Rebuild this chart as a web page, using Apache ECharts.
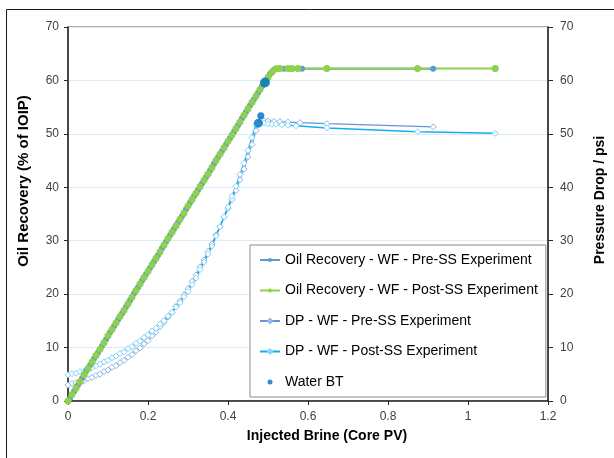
<!DOCTYPE html>
<html>
<head>
<meta charset="utf-8">
<script src="https://cdn.jsdelivr.net/npm/echarts@6/dist/echarts.min.js"></script>
<style>
html,body{margin:0;padding:0;background:#fff;}
#chart{width:614px;height:458px;}
</style>
</head>
<body>
<div id="chart"></div>
<script>
// ---- Data ----
var xTicks = ['0', '0.2', '0.4', '0.6', '0.8', '1', '1.2'];
var yTicks = ['0', '10', '20', '30', '40', '50', '60', '70'];

var seriesNames = [
  'Oil Recovery - WF - Pre-SS Experiment',
  'Oil Recovery - WF - Post-SS Experiment',
  'DP - WF - Pre-SS Experiment',
  'DP - WF - Post-SS Experiment',
  'Water BT'
];

// Oil recovery, pre-SS  [PV, % IOIP]
var oilPre = [
  [0.005,0.5],[0.015,1.8],[0.025,3.0],[0.035,4.2],[0.045,5.5],[0.055,6.7],[0.065,7.9],[0.075,9.1],
  [0.085,10.3],[0.095,11.5],[0.105,12.8],[0.115,14.0],[0.125,15.2],[0.135,16.4],[0.145,17.6],
  [0.155,18.8],[0.165,20.1],[0.175,21.3],[0.185,22.5],[0.195,23.7],[0.205,24.9],[0.215,26.1],
  [0.225,27.3],[0.235,28.6],[0.245,29.8],[0.255,31.0],[0.265,32.2],[0.275,33.4],[0.285,34.6],
  [0.295,35.9],[0.305,37.1],[0.315,38.3],[0.325,39.5],[0.335,40.7],[0.345,41.9],[0.355,43.1],
  [0.365,44.4],[0.375,45.6],[0.385,46.8],[0.395,48.0],[0.405,49.2],[0.415,50.4],[0.425,51.6],
  [0.435,52.9],[0.445,54.1],[0.455,55.3],[0.465,56.5],[0.475,57.7],[0.485,58.9],[0.495,59.9],
  [0.505,61.2],[0.515,62.0],[0.525,62.2],[0.54,62.2],[0.56,62.2],[0.575,62.2],[0.585,62.2],[0.913,62.2]
];

// Oil recovery, post-SS
var oilPost = [
  [0.000,0.0],[0.010,1.2],[0.020,2.4],[0.030,3.6],[0.040,4.9],[0.050,6.1],[0.060,7.3],[0.070,8.5],
  [0.080,9.7],[0.090,10.9],[0.100,12.2],[0.110,13.4],[0.120,14.6],[0.130,15.8],[0.140,17.0],
  [0.150,18.2],[0.160,19.4],[0.170,20.7],[0.180,21.9],[0.190,23.1],[0.200,24.3],[0.210,25.5],
  [0.220,26.7],[0.230,27.9],[0.240,29.2],[0.250,30.4],[0.260,31.6],[0.270,32.8],[0.280,34.0],
  [0.290,35.2],[0.300,36.5],[0.310,37.7],[0.320,38.9],[0.330,40.1],[0.340,41.3],[0.350,42.5],
  [0.360,43.7],[0.370,45.0],[0.380,46.2],[0.390,47.4],[0.400,48.6],[0.410,49.8],[0.420,51.0],
  [0.430,52.2],[0.440,53.5],[0.450,54.7],[0.460,55.9],[0.470,57.1],[0.480,58.3],[0.490,59.5],
  [0.500,60.6],[0.510,61.6],[0.520,62.2],[0.530,62.25],[0.550,62.25],[0.560,62.25],
  [0.575,62.25],[0.647,62.25],[0.874,62.25],[1.068,62.25]
];

// Pressure drop, pre-SS [PV, psi]
var dpPre = [
  [0.000,3.0],[0.010,3.3],[0.020,3.4],[0.030,3.7],[0.040,3.8],[0.050,4.2],[0.060,4.4],[0.070,4.8],
  [0.080,5.0],[0.090,5.5],[0.100,5.8],[0.110,6.3],[0.120,6.6],[0.130,7.2],[0.140,7.6],[0.150,8.2],
  [0.160,8.7],[0.170,9.4],[0.180,9.9],[0.190,10.7],[0.200,11.3],[0.210,12.2],[0.220,12.9],
  [0.230,13.9],[0.240,14.7],[0.250,15.7],[0.260,16.6],[0.270,17.7],[0.280,18.7],[0.290,19.9],
  [0.300,21.0],[0.310,22.4],[0.320,23.6],[0.330,25.1],[0.340,26.4],[0.350,28.0],[0.360,29.4],
  [0.370,31.1],[0.380,32.6],[0.390,34.4],[0.400,36.0],[0.410,37.7],[0.420,39.4],[0.430,41.4],
  [0.440,43.4],[0.450,45.7],[0.460,48.0],[0.470,50.6],[0.482,53.4],[0.490,52.5],[0.500,52.4],
  [0.515,52.3],[0.530,52.3],[0.550,52.2],[0.580,52.1],[0.647,51.9],[0.913,51.3]
];

// Pressure drop, post-SS
var dpPost = [
  [0.000,4.9],[0.010,5.1],[0.020,5.2],[0.030,5.5],[0.040,5.6],[0.050,6.0],[0.060,6.2],[0.070,6.6],
  [0.080,6.9],[0.090,7.3],[0.100,7.6],[0.110,8.1],[0.120,8.4],[0.130,8.9],[0.140,9.2],[0.150,9.8],
  [0.160,10.2],[0.170,10.8],[0.180,11.2],[0.190,11.9],[0.200,12.4],[0.210,13.1],[0.220,13.6],
  [0.230,14.4],[0.240,15.0],[0.250,15.9],[0.260,16.6],[0.270,17.6],[0.280,18.4],[0.290,19.5],
  [0.300,20.5],[0.310,21.8],[0.320,23.0],[0.330,24.6],[0.340,26.0],[0.350,27.5],[0.360,29.0],
  [0.370,30.9],[0.380,32.6],[0.390,34.5],[0.400,36.3],[0.410,38.3],[0.420,40.2],[0.430,42.4],
  [0.440,44.5],[0.450,46.9],[0.460,49.3],[0.470,51.8],[0.476,52.0],[0.490,52.0],[0.500,51.9],
  [0.510,51.8],[0.520,51.8],[0.535,51.7],[0.550,51.6],[0.570,51.5],[0.647,51.1],[0.874,50.4],[1.068,50.1]
];

// Water breakthrough markers
var waterBT = [[0.4925,59.6],[0.482,53.4],[0.476,52.0]];
var waterBTSize = [10, 7, 9];

// ---- Chart ----
var FONT = 'Liberation Sans, Arial, sans-serif';
var chart = echarts.init(document.getElementById('chart'), null, {renderer:'canvas'});

var option = {
  animation: false,
  backgroundColor: '#ffffff',
  textStyle: {fontFamily: FONT},
  grid: {left: 68, right: 66, top: 27, bottom: 57, show: true, borderColor: '#595959', borderWidth: 1, backgroundColor: 'transparent'},
  xAxis: {
    type: 'value', min: 0, max: 1.2, interval: 0.2,
    axisLine: {show: true, onZero: false, lineStyle: {color: '#262626', width: 1.5}},
    axisTick: {show: true, inside: false, length: 4, lineStyle: {color: '#262626'}},
    axisLabel: {color: '#404040', fontSize: 12, fontFamily: FONT, margin: 10,
      formatter: function (v) { var s = xTicks[Math.round(v / 0.2)]; return s === undefined ? '' : s; }},
    splitLine: {show: false}
  },
  yAxis: [
    {
      type: 'value', min: 0, max: 70, interval: 10, position: 'left',
      axisLine: {show: true, lineStyle: {color: '#262626', width: 1.5}},
      axisTick: {show: true, length: 4, lineStyle: {color: '#262626'}},
      axisLabel: {color: '#404040', fontSize: 12, fontFamily: FONT, margin: 9,
        formatter: function (v) { return yTicks[Math.round(v / 10)]; }},
      splitLine: {show: true, lineStyle: {color: '#dde9f5', width: 1}}
    },
    {
      type: 'value', min: 0, max: 70, interval: 10, position: 'right',
      axisLine: {show: true, lineStyle: {color: '#262626', width: 1.5}},
      axisTick: {show: true, length: 5, lineStyle: {color: '#262626'}},
      axisLabel: {color: '#404040', fontSize: 12, fontFamily: FONT, margin: 12,
        formatter: function (v) { return yTicks[Math.round(v / 10)]; }},
      splitLine: {show: false}
    }
  ],
  legend: {
    orient: 'vertical', left: 250, top: 245,
    padding: [8, 8, 8, 9], itemGap: 16.5, itemWidth: 20, itemHeight: 5,
    backgroundColor: '#ffffff', borderColor: '#8c8c8c', borderWidth: 1, borderRadius: 0,
    textStyle: {color: '#000000', fontSize: 14, fontFamily: FONT},
    data: seriesNames.map(function (n) { return {name: n}; })
  },
  graphic: [
    {type: 'rect', silent: true, z: -1, shape: {x: 6.5, y: 9.5, width: 700, height: 600},
      style: {fill: 'none', stroke: '#1a1a1a', lineWidth: 1}},
    {type: 'text', x: 24, y: 181, rotation: Math.PI / 2,
      style: {text: 'Oil Recovery (% of IOIP)', font: 'bold 15px ' + FONT, fill: '#000', textAlign: 'center', textVerticalAlign: 'middle'}},
    {type: 'text', x: 600, y: 200, rotation: Math.PI / 2,
      style: {text: 'Pressure Drop / psi', font: 'bold 14px ' + FONT, fill: '#000', textAlign: 'center', textVerticalAlign: 'middle'}},
    {type: 'text', x: 327, y: 436,
      style: {text: 'Injected Brine (Core PV)', font: 'bold 14px ' + FONT, fill: '#000', textAlign: 'center', textVerticalAlign: 'middle'}}
  ],
  series: [
    {
      name: seriesNames[2], type: 'line', yAxisIndex: 1, data: dpPre,
      symbol: 'diamond', symbolSize: 6, showSymbol: true,
      lineStyle: {color: '#6495d6', width: 1.2},
      itemStyle: {color: '#ffffff', borderColor: '#8fb4e3', borderWidth: 1}
    },
    {
      name: seriesNames[3], type: 'line', yAxisIndex: 1, data: dpPost,
      symbol: 'diamond', symbolSize: 6, showSymbol: true,
      lineStyle: {color: '#12aef0', width: 1.5},
      itemStyle: {color: '#ffffff', borderColor: '#7fd3f6', borderWidth: 1}
    },
    {
      name: seriesNames[0], type: 'line', yAxisIndex: 0, data: oilPre,
      symbol: 'circle', symbolSize: 6, showSymbol: true,
      lineStyle: {color: '#5b9bd5', width: 2},
      itemStyle: {color: '#5b9bd5'}
    },
    {
      name: seriesNames[1], type: 'line', yAxisIndex: 0, data: oilPost,
      symbol: 'circle', symbolSize: 7, showSymbol: true,
      lineStyle: {color: '#92d050', width: 2},
      itemStyle: {color: '#8fd04c'}
    },
    {
      name: seriesNames[4], type: 'scatter', yAxisIndex: 0,
      data: waterBT.map(function (p, i) { return {value: p, symbolSize: waterBTSize[i]}; }),
      symbol: 'circle', symbolSize: 5,
      itemStyle: {color: '#0070c0'}, z: 5
    }
  ]
};
chart.setOption(option);
</script>
</body>
</html>
